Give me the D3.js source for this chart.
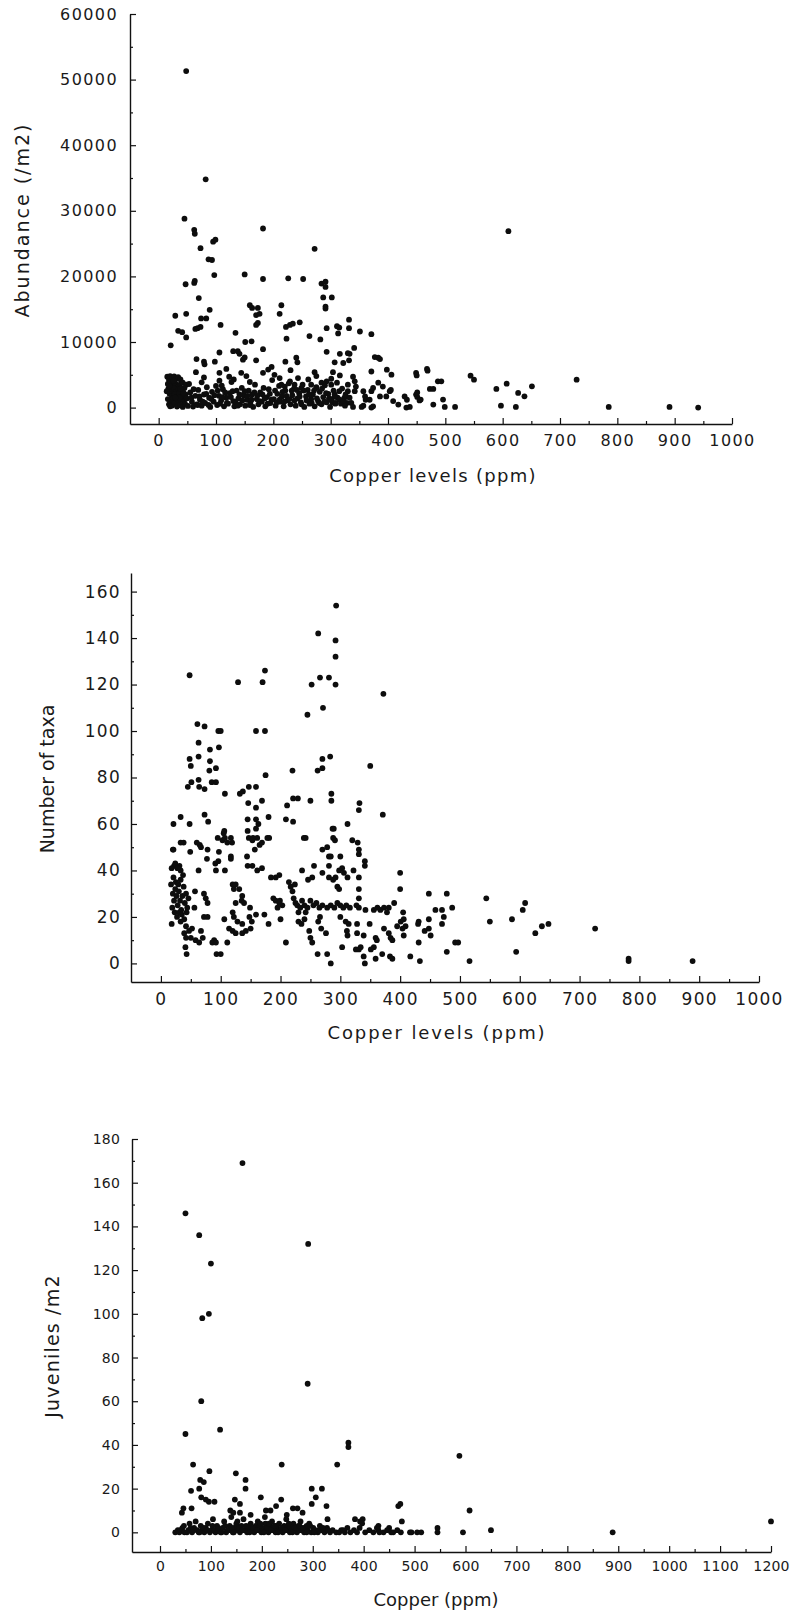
<!DOCTYPE html>
<html>
<head>
<meta charset="utf-8">
<script src="https://cdn.jsdelivr.net/npm/d3@7"></script>
<style>
  html, body { margin: 0; padding: 0; background: #fff; }
  svg { display: block; }
  text { font-family: "DejaVu Sans", sans-serif; fill: #1a1a1a; }
</style>
</head>
<body>
<svg id="chart" width="794" height="1616"></svg>
<script>
// Tick labels
const abundanceTicks = [0, 10000, 20000, 30000, 40000, 50000, 60000];
const taxaTicks = [0, 20, 40, 60, 80, 100, 120, 140, 160];
const juvenileTicks = [0, 20, 40, 60, 80, 100, 120, 140, 160, 180];
const copperTicks = [0, 100, 200, 300, 400, 500, 600, 700, 800, 900, 1000];
const copperTicksWide = [0, 100, 200, 300, 400, 500, 600, 700, 800, 900, 1000, 1100, 1200];

// Abundance (/m2) against copper (ppm): [copper, abundance]
const abundanceData = [
  [48,51300],[82,34800],[45,28800],[62,27100],[63,26500],[182,27300],[272,24200],[73,24300],
  [95,25300],[99,25600],[87,22600],[93,22500],[97,20200],[47,18800],[62,19000],[63,19300],
  [150,20300],[182,19600],[226,19700],[252,19600],[284,18900],[291,19200],[291,18400],
  [287,16800],[302,16800],[291,15400],[291,15100],[70,16700],[89,14900],[48,14300],[29,14000],
  [74,13600],[83,13600],[159,15600],[163,15200],[173,15200],[170,14100],[176,14300],[173,12900],
  [170,12600],[214,15600],[211,14300],[222,12300],[229,12600],[234,12800],[246,13000],[223,10500],
  [263,10900],[282,10400],[293,12100],[311,12400],[315,12200],[313,11300],[332,13400],[332,12100],
  [351,11600],[371,11200],[41,11500],[34,11700],[48,10700],[64,12000],[68,12100],[73,12300],
  [21,9500],[108,12600],[134,11400],[151,10000],[162,10100],[182,8900],[106,8400],[130,8600],
  [138,8600],[141,8200],[293,8500],[316,8200],[333,8200],[341,9100],[377,7700],[383,7600],
  [610,26900],[729,4260],[785,100],[891,100],[941,0],[589,2840],[607,3650],[627,2230],[638,1720],
  [651,3240],[597,300],[623,100],[544,4870],[550,4260],[517,100],[496,1220],[499,100],[479,460],
  [473,2840],[479,2840],[487,4000],[493,4000],[449,5280],[450,4910],[468,5890],[469,5630],
  [449,1980],[451,1630],[457,1220],[418,460],[398,5780],[406,5020],[386,7400],
  [66,7400],[79,7000],[80,6600],[98,7000],[147,7300],[150,7650],[170,7200],[221,7000],[240,7600],[242,6900],
  [65,5400],[79,4600],[75,3850],[106,5300],[118,5900],[131,4300],[144,5300],[159,3900],[153,4800],
  [182,5300],[191,5800],[197,6200],[230,5700],[272,5400],[275,4800],[293,4000],[106,4100],[110,3350],
  [123,4700],[202,5000],[211,4500],[214,3500],[220,3200],[229,4000],[237,3500],[243,4500],[249,3000],
  [261,4300],[266,3500],[275,3000],[284,3800],[301,3500],
  [15,4700],[18,4200],[20,4800],[24,4500],[27,4750],[31,4400],[34,4650],[38,4300],[16,3600],[21,3900],
  [25,3400],[29,3700],[33,3200],[37,3500],[42,3800],[17,2900],[22,2600],[26,3000],[30,2400],[35,2800],
  [40,2500],[45,3000],[19,2100],[23,1800],[28,2000],[32,1600],[36,2200],[41,1700],[47,2000],[16,1300],
  [21,1000],[25,1400],[30,1100],[34,800],[39,1200],[44,900],[49,1400],[18,500],[23,300],[27,600],
  [32,150],[37,400],[42,100],[46,550],[51,250],
  [14,2500],[19,3300],[26,4100],[36,1500],[43,2300],[48,3500],[20,200],[29,1500],[38,2900],[53,3600],
  [55,2300],[58,900],[60,150],[64,1800],[66,500],[69,2700],[72,1200],[75,300],[79,2000],[81,700],
  [84,3100],[88,1500],[90,100],[93,2400],[96,900],[100,3300],[102,400],[105,1800],[109,1100],[112,2800],
  [114,200],[118,1500],[121,600],[124,2200],[127,3900],[130,1000],[132,200],[136,2600],[139,1400],
  [142,500],[145,3000],[148,1900],[151,300],[154,1200],[157,2600],[160,700],[163,2000],[165,100],
  [168,3500],[171,1300],[174,500],[177,2300],[180,900],[183,3000],[186,200],[189,1600],[192,2800],
  [195,700],[198,4200],[201,1300],[204,300],[207,2100],[210,3300],[212,900],[215,1700],[218,200],
  [221,2600],[224,1100],[227,3700],[230,500],[233,1900],[236,2900],[239,300],[242,1400],[245,2200],
  [248,800],[251,3500],[254,100],[257,1700],[260,2700],[263,600],[266,1300],[269,2000],[272,200],
  [275,3100],[278,1000],[281,2400],[284,500],[287,1600],[290,3400],[293,800],[296,2100],[299,100],
  [302,1300],[305,2600],[308,600],
  [57,1500],[61,2800],[68,400],[71,1700],[77,900],[83,2100],[87,400],[92,1300],[97,1900],[103,2600],
  [107,600],[111,1600],[116,2300],[119,700],[126,1600],[129,2500],[134,900],[138,300],[141,2000],
  [146,1100],[150,2500],[155,1800],[159,400],[162,1200],[167,2300],[172,1800],[176,1000],[181,2000],
  [185,1400],[190,600],[194,2100],[197,1200],[203,2600],[206,800],[211,1200],[216,2400],[219,900],
  [223,1800],[228,1300],[232,2600],[237,1100],[241,2700],[246,1700],[249,500],[253,2600],[258,1100],
  [262,2000],[267,700],[271,2600],[276,1400],[280,700],[285,2900],[289,900],[292,2200],[297,1400],
  [303,800],[307,2000],[312,1500],[318,600],[320,2900],[324,1500],[328,700],
  [330,8300],[332,7200],[322,6800],[307,6900],[371,5500],[304,5400],[301,4400],[316,4900],[311,3800],
  [315,2500],[307,1700],[301,1200],[309,700],[316,1200],[342,4000],[339,4700],[344,3200],[342,2500],
  [330,3500],[330,2500],[333,1500],[336,700],[339,100],[325,300],[322,1000],[326,2000],[357,2500],
  [360,1700],[361,1200],[357,300],[354,100],[374,3000],[371,2500],[368,1200],[371,0],[374,200],
  [391,3200],[383,3800],[386,1700],[409,1000],[403,2500],[405,2700],[397,1700],[429,1700],[433,1200],
  [438,100],[432,0],[455,1100],[451,2300]
];

// Number of taxa against copper (ppm): [copper, taxa]
const taxaData = [
  [293,154],[263,142],[292,139],[292,132],[48,124],[129,121],[170,121],[174,126],[266,123],[281,123],
  [292,120],[252,120],[372,116],[271,110],[245,107],[61,103],[73,102],[96,100],[100,100],[159,100],
  [174,100],[63,95],[97,93],[82,92],[48,88],[50,85],[63,89],[82,87],[81,83],[92,84],[220,83],[262,83],
  [270,84],[270,88],[283,89],[350,85],[175,81],[45,76],[51,78],[63,79],[64,76],[73,75],[85,78],[92,78],
  [107,73],[132,73],[137,74],[147,76],[159,76],[169,70],[146,69],[159,67],[211,68],[221,71],[229,71],
  [250,70],[285,73],[285,70],[332,69],[331,66],[371,64],[21,60],[33,63],[48,60],[73,64],[79,61],
  [145,62],[159,62],[159,58],[163,60],[209,62],[221,61],[312,60],[289,58],[291,53],[239,54],[320,53],
  [329,52],[331,49],[331,47],[20,49],[38,52],[65,51],[67,50],[78,49],[95,54],[103,53],[97,48],[105,56],
  [107,54],[117,54],[119,52],[117,46],[147,54],[154,54],[161,54],[165,51],[157,49],[181,54],
  [106,57],[111,52],[96,44],[145,57],[153,53],[169,52],[178,54],[180,63],[242,54],[270,49],[281,46],
  [287,58],[288,54],[21,49],[33,52],[31,42],[22,42],[28,41],[33,40],[49,48],[63,40],[60,52],[77,45],
  [91,43],[92,40],[107,40],[117,45],[144,46],[145,42],[153,42],[161,40],[169,41],[184,37],[192,37],
  [198,38],[214,35],[217,33],[224,34],[236,40],[246,36],[253,37],[256,42],[270,39],[281,42],[281,37],
  [288,36],[278,50],
  [17,34],[20,30],[22,27],[24,32],[26,29],[28,25],[30,31],[32,27],[34,23],[36,29],[38,33],[40,26],
  [42,30],[44,24],[46,28],[19,24],[23,22],[27,20],[31,22],[35,21],[39,19],[43,22],[25,35],[29,34],
  [33,36],[21,37],[37,38],[18,41],[24,43],[28,41],[56,24],[57,31],[72,30],[75,28],[78,26],[72,20],[78,20],
  [18,17],[33,18],[42,16],[47,14],[39,13],[42,11],[50,11],[58,10],[64,9],[70,11],[52,15],[67,14],
  [89,10],[86,9],[93,4],[92,9],[41,7],[43,4],[111,9],[100,4],
  [120,34],[122,32],[125,34],[131,32],[136,29],[135,27],[139,26],[125,26],[120,22],[122,20],[128,18],
  [136,17],[106,19],[114,15],[120,14],[125,13],[136,13],[142,14],[150,15],[152,18],[148,20],[149,24],
  [159,21],[173,21],[180,17],[188,28],[192,27],[199,27],[203,25],[195,24],[198,26],[200,19],[209,9],
  [220,31],[222,28],[225,26],[228,25],[230,22],[233,24],[236,27],[240,25],[242,22],[245,24],[250,27],
  [255,25],[260,26],[265,24],[270,25],[278,24],[284,25],[290,24],[295,26],[300,25],[305,24],[310,25],
  [316,24],[230,18],[235,17],[240,19],[248,14],[250,11],[253,9],[263,18],[268,15],[276,13],[266,20],
  [262,4],[278,4],[284,0],
  [284,46],[300,46],[303,41],[298,40],[306,39],[312,37],[292,37],[322,40],[331,37],[331,32],[331,28],
  [331,24],[327,25],[341,44],[341,42],[295,33],[298,32],[342,23],[356,23],[362,24],[367,23],[373,24],
  [378,22],[381,24],[390,26],[400,39],[400,32],[405,22],[406,19],[409,16],[404,15],[406,12],[300,20],
  [309,18],[314,17],[328,17],[328,13],[311,14],[312,12],[339,12],[349,17],[303,7],[326,6],[331,6],
  [334,7],[339,3],[341,0],[359,11],[361,10],[356,7],[351,6],[370,4],[359,2],[373,15],[381,13],[384,11],
  [387,10],[383,3],[387,2],[395,16],[401,18],[417,3],[431,18],[430,17],[431,9],[433,1],[441,14],
  [448,15],[451,12],[448,19],[448,30],[459,23],[470,23],[473,20],[470,17],[478,30],[487,24],[478,5],
  [492,9],[497,9],[516,1],[544,28],[550,18],[587,19],[594,5],[605,23],[609,26],[626,13],[637,16],
  [648,17],[726,15],[782,2],[782,1],[889,1]
];

// Juveniles /m2 against copper (ppm): [copper, juveniles]
const juvenileData = [
  [162,169],[50,146],[77,136],[291,132],[100,123],[83,98],[96,100],[290,68],[81,60],[50,45],[118,47],
  [370,41],[370,39],[348,31],[239,31],[65,31],[97,28],[149,27],[168,24],[168,20],[79,24],[86,23],
  [77,20],[61,19],[81,16],[90,15],[96,14],[107,14],[147,15],[157,13],[198,16],[238,15],[298,20],
  [318,20],[306,16],[327,12],[329,6],[298,13],[43,9],[46,11],[62,11],[138,10],[144,9],[157,9],[178,8],
  [208,10],[217,10],[228,12],[249,8],[261,11],[270,11],[280,9],[468,12],[588,35],[472,13],[608,10],
  [475,5],[383,6],[393,5],[398,6],[650,1],[595,0],[545,2],[545,0],[513,0],[491,0],[494,0],[450,2],
  [454,0],[458,0],[429,3],[429,1],[431,0],[889,0],[1200,5],
  [30,0],[35,1],[38,0],[44,2],[47,3],[53,0],[56,1],[58,4],[63,0],[67,2],[70,5],[73,1],[76,0],[80,3],
  [83,1],[87,0],[90,2],[94,4],[98,0],[101,1],[104,6],[109,0],[112,3],[116,1],[119,0],[123,2],[126,5],
  [130,0],[133,1],[137,3],[140,7],[143,0],[147,2],[150,4],[153,1],[157,0],[160,3],[164,6],[167,1],
  [171,0],[174,2],[178,4],[181,1],[185,0],[188,3],[192,5],[195,1],[199,0],[202,2],[206,7],[209,1],
  [213,0],[216,3],[220,5],[223,1],[227,0],[230,2],[234,4],[237,1],[241,0],[244,3],[248,6],[251,1],
  [255,0],[258,2],[262,4],[265,1],[269,0],[272,3],[276,5],[279,1],[283,0],[286,2],[290,1],[293,4],
  [297,0],[301,2],[305,1],[310,0],[314,3],[319,1],[323,0],[328,2],[334,0],[339,1],[346,0],[356,1],
  [363,0],[368,2],[374,0],[381,1],[387,0],[392,2],[397,4],[403,0],[411,1],[419,0],[426,2],[439,0],
  [446,1],[466,1],[473,0],[505,0],
  [150,3],[158,2],[176,3],[186,2],[196,3],[207,4],[218,2],[228,3],[240,2],[252,3],[264,2],[274,1],[288,3],
  [40,1],[48,0],[60,2],[65,1],[78,0],[85,2],[92,1],[103,3],[107,1],[114,2],[121,0],[128,3],[135,1],
  [141,2],[145,0],[152,5],[155,2],[162,1],[169,3],[176,0],[183,2],[190,1],[197,4],[204,0],[211,2],
  [214,4],[218,1],[225,3],[232,0],[239,2],[246,1],[253,4],[260,0],[267,2],[274,3],[281,2],[288,0],
  [295,3],[303,0],[312,1],[320,2],[330,1],[352,0],[360,1]
];

const svg = d3.select('#chart');
svg.append('rect').attr('width', 794).attr('height', 1616).attr('fill', '#fff');

const panels = [
  {
    data: abundanceData,
    xDomain: [-50, 1000], xRange: [130, 732],
    yDomain: [-2500, 60000], yRange: [424, 14],
    xTicks: copperTicks, xMinor: d3.range(50, 1000, 100),
    yTicks: abundanceTicks, yMinor: d3.range(5000, 60000, 10000),
    tickFont: 16, tickSpacing: 1.4, xPad: 11, yPad: 12,
    xLabel: 'Copper levels (ppm)', xLabelPos: [433, 482], xLabelSpacing: 1.3,
    yLabel: 'Abundance (/m2)', yLabelPos: [22, 220], yLabelSpacing: 2
  },
  {
    data: taxaData,
    xDomain: [-50, 1000], xRange: [131, 759],
    yDomain: [-8, 168], yRange: [982, 573],
    xTicks: copperTicks, xMinor: d3.range(50, 1000, 100),
    yTicks: taxaTicks, yMinor: d3.range(10, 170, 20),
    tickFont: 17, tickSpacing: 1.3, xPad: 11, yPad: 10,
    xLabel: 'Copper levels (ppm)', xLabelPos: [437, 1039], xLabelSpacing: 1.9,
    yLabel: 'Number of taxa', yLabelPos: [47, 779], yLabelSpacing: 0
  },
  {
    data: juvenileData,
    xDomain: [-55, 1200], xRange: [132, 771],
    yDomain: [-9, 180], yRange: [1552, 1139],
    xTicks: copperTicksWide, xMinor: d3.range(50, 1200, 100),
    yTicks: juvenileTicks, yMinor: d3.range(10, 180, 20),
    tickFont: 14, tickSpacing: 0.2, xPad: 9, yPad: 12,
    xLabel: 'Copper (ppm)', xLabelPos: [436, 1606], xLabelSpacing: 0,
    yLabel: 'Juveniles /m2', yLabelPos: [52, 1346], yLabelSpacing: 1.2
  }
];

function styleAxis(sel, p) {
  sel.selectAll('.domain').attr('stroke', '#111').attr('stroke-width', 1.4);
  sel.selectAll('.tick line').attr('stroke', '#111').attr('stroke-width', 1.2);
  sel.selectAll('.tick text')
    .attr('fill', '#1a1a1a')
    .style('font-family', '"DejaVu Sans", sans-serif')
    .style('font-size', p.tickFont + 'px')
    .style('letter-spacing', p.tickSpacing + 'px');
  sel.attr('font-family', null).attr('font-size', null);
}

panels.forEach(p => {
  const x = d3.scaleLinear().domain(p.xDomain).range(p.xRange);
  const y = d3.scaleLinear().domain(p.yDomain).range(p.yRange);
  const g = svg.append('g');

  // points
  g.append('g').selectAll('circle')
    .data(p.data)
    .join('circle')
    .attr('cx', d => x(d[0]))
    .attr('cy', d => y(d[1]))
    .attr('r', 2.9)
    .attr('fill', '#0d0d0d');

  // minor ticks
  g.append('g')
    .attr('transform', `translate(0,${p.yRange[0]})`)
    .call(d3.axisBottom(x).tickValues(p.xMinor).tickSize(-3).tickFormat(''))
    .call(s => s.select('.domain').remove())
    .call(s => styleAxis(s, p));
  g.append('g')
    .attr('transform', `translate(${p.xRange[0]},0)`)
    .call(d3.axisLeft(y).tickValues(p.yMinor).tickSize(-3).tickFormat(''))
    .call(s => s.select('.domain').remove())
    .call(s => styleAxis(s, p));

  // major axes
  g.append('g')
    .attr('transform', `translate(0,${p.yRange[0]})`)
    .call(d3.axisBottom(x).tickValues(p.xTicks).tickSizeInner(-6).tickSizeOuter(0)
      .tickPadding(p.xPad).tickFormat(d3.format('d')))
    .call(s => styleAxis(s, p));
  g.append('g')
    .attr('transform', `translate(${p.xRange[0]},0)`)
    .call(d3.axisLeft(y).tickValues(p.yTicks).tickSizeInner(-6).tickSizeOuter(0)
      .tickPadding(p.yPad).tickFormat(d3.format('d')))
    .call(s => styleAxis(s, p));

  // axis titles
  g.append('text')
    .attr('x', p.xLabelPos[0]).attr('y', p.xLabelPos[1])
    .attr('text-anchor', 'middle')
    .style('font-size', '18px')
    .style('letter-spacing', p.xLabelSpacing + 'px')
    .text(p.xLabel);
  g.append('text')
    .attr('transform', `translate(${p.yLabelPos[0]},${p.yLabelPos[1]}) rotate(-90)`)
    .attr('text-anchor', 'middle')
    .attr('dy', '0.35em')
    .style('font-size', '19px')
    .style('letter-spacing', p.yLabelSpacing + 'px')
    .text(p.yLabel);
});
</script>
</body>
</html>
